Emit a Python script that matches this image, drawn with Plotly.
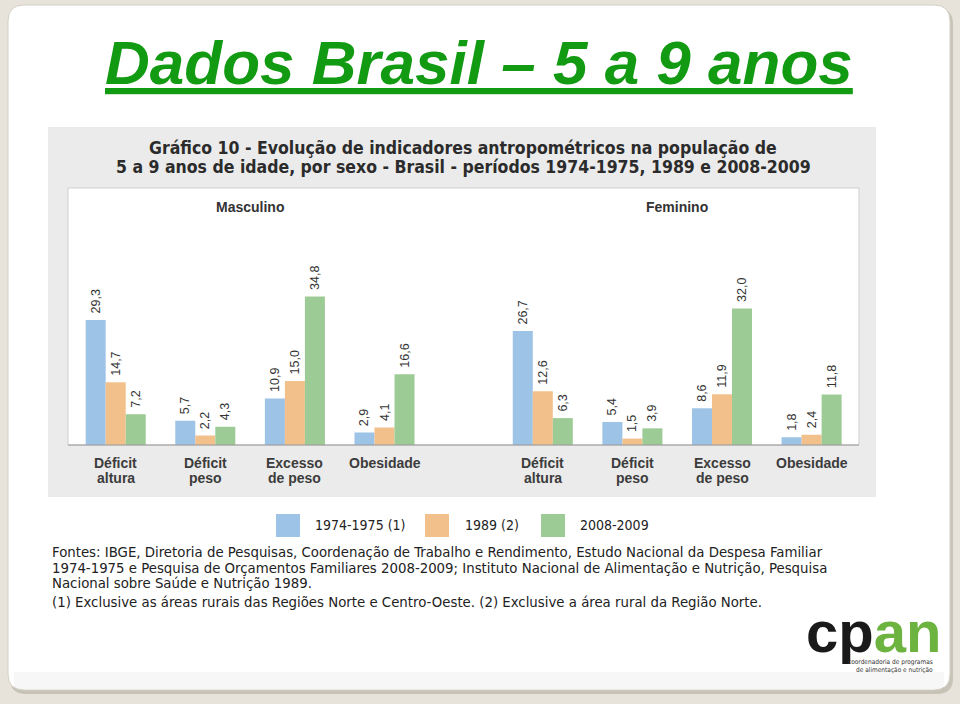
import plotly.graph_objects as go

# ---------------- data ----------------
categories = ["Déficit altura", "Déficit peso", "Excesso de peso", "Obesidade"]
category_lines = [("Déficit", "altura"), ("Déficit", "peso"), ("Excesso", "de peso"), ("Obesidade", "")]
periods = ["1974-1975 (1)", "1989 (2)", "2008-2009"]
masc_1974 = [29.3, 5.7, 10.9, 2.9]
masc_1989 = [14.7, 2.2, 15.0, 4.1]
masc_2008 = [7.2, 4.3, 34.8, 16.6]
fem_1974 = [26.7, 5.4, 8.6, 1.8]
fem_1989 = [12.6, 1.5, 11.9, 2.4]
fem_2008 = [6.3, 3.9, 32.0, 11.8]

colors = ["#9dc3e6", "#f2c08b", "#9dcb95"]
W, H = 960, 704


def px(x):
    return x / W


def py(y):
    return 1 - y / H


def fmt(v):
    return "\u00a0" + f"{v:.1f}".replace(".", ",")


fig = go.Figure()

series = [
    ("x", "y", [masc_1974, masc_1989, masc_2008]),
    ("x2", "y2", [fem_1974, fem_1989, fem_2008]),
]
for xa, ya, vals in series:
    for i, v in enumerate(vals):
        fig.add_trace(go.Bar(
            x=categories, y=v, xaxis=xa, yaxis=ya,
            name=periods[i], marker=dict(color=colors[i], line=dict(width=0)),
            text=[fmt(t) for t in v], textposition="outside", textangle=-90,
            constraintext="none",
            textfont=dict(family="Liberation Sans, Arial, sans-serif", size=12.5, color="#333333"),
            cliponaxis=False, showlegend=False, hoverinfo="skip",
        ))

# ---------------- decoration shapes ----------------
def rrect(x0, y0, x1, y1, r):
    rx, ry = r / W, r / H
    X0, X1, Y0, Y1 = px(x0), px(x1), py(y0), py(y1)
    return (f"M {X0+rx},{Y0} L {X1-rx},{Y0} Q {X1},{Y0} {X1},{Y0-ry} "
            f"L {X1},{Y1+ry} Q {X1},{Y1} {X1-rx},{Y1} L {X0+rx},{Y1} "
            f"Q {X0},{Y1} {X0},{Y1+ry} L {X0},{Y0-ry} Q {X0},{Y0} {X0+rx},{Y0} Z")

shapes = [
    dict(type="path", xref="paper", yref="paper", path=rrect(10, 8, 953, 694, 16),
         fillcolor="rgba(120,110,90,0.28)", line=dict(width=0), layer="below"),
    dict(type="path", xref="paper", yref="paper", path=rrect(8, 5, 950, 690, 16),
         fillcolor="#ffffff", line=dict(color="#d4d0c6", width=1), layer="below"),
    dict(type="rect", xref="paper", yref="paper", x0=px(14), x1=px(944), y0=py(689), y1=py(672),
         fillcolor="rgba(0,0,0,0.03)", line=dict(width=0), layer="below"),
    # gray chart panel
    dict(type="rect", xref="paper", yref="paper", x0=px(48), x1=px(876), y0=py(497), y1=py(127),
         fillcolor="#ebebeb", line=dict(width=0), layer="below"),
    # white plot area
    dict(type="rect", xref="paper", yref="paper", x0=px(68), x1=px(859), y0=py(445), y1=py(188),
         fillcolor="#ffffff", line=dict(color="#cfcfcf", width=1), layer="below"),
    # baseline
    dict(type="line", xref="paper", yref="paper", x0=px(68), x1=px(859), y0=py(445), y1=py(445),
         line=dict(color="#9a9a9a", width=1.2)),
]

# legend swatches
leg_x = [276, 425, 541]
for i, lx in enumerate(leg_x):
    shapes.append(dict(type="rect", xref="paper", yref="paper", x0=px(lx), x1=px(lx + 24),
                       y0=py(537), y1=py(514), fillcolor=colors[i], line=dict(width=0)))

narrow = "Liberation Sans Narrow, Arial Narrow, DejaVu Sans Condensed, sans-serif"
arial = "Liberation Sans, Arial, sans-serif"

annotations = [
    dict(text="<b><i><u>Dados Brasil – 5 a 9 anos</u></i></b>", x=px(479), y=py(62),
         xref="paper", yref="paper", showarrow=False, xanchor="center", yanchor="middle",
         font=dict(family=arial, size=62, color="#139a13")),
    dict(text="<b>Masculino</b>", x=px(250), y=py(207), xref="paper", yref="paper",
         showarrow=False, xanchor="center", yanchor="middle",
         font=dict(family=arial, size=14, color="#333333")),
    dict(text="<b>Feminino</b>", x=px(677), y=py(207), xref="paper", yref="paper",
         showarrow=False, xanchor="center", yanchor="middle",
         font=dict(family=arial, size=14, color="#333333")),
]

head_lines = [
    ("Gráfico 10 - Evolução de indicadores antropométricos na população de", 148),
    ("5 a 9 anos de idade, por sexo - Brasil - períodos 1974-1975, 1989 e 2008-2009", 167),
]
for t, yy in head_lines:
    annotations.append(dict(text=f"<b>{t}</b>", x=px(463), y=py(yy), xref="paper", yref="paper",
                            showarrow=False, xanchor="center", yanchor="middle",
                            font=dict(family=narrow, size=17.5, color="#2b2b2b")))

foot_lines = [
    ("Fontes: IBGE, Diretoria de Pesquisas, Coordenação de Trabalho e Rendimento, Estudo Nacional da Despesa Familiar", 551),
    ("1974-1975 e Pesquisa de Orçamentos Familiares 2008-2009; Instituto Nacional de Alimentação e Nutrição, Pesquisa", 567),
    ("Nacional sobre Saúde e Nutrição 1989.", 582),
    ("(1) Exclusive as áreas rurais das Regiões Norte e Centro-Oeste. (2) Exclusive a área rural da Região Norte.", 601),
]
for t, yy in foot_lines:
    annotations.append(dict(text=t, x=px(50), y=py(yy), xref="paper", yref="paper", showarrow=False,
                            xanchor="left", yanchor="middle", align="left",
                            font=dict(family=narrow, size=14.8, color="#222222")))

# category labels under bars (two tight lines)
for xa in ["x", "x2"]:
    for cat, (l1, l2) in zip(categories, category_lines):
        for txt, yy in ((l1, 463), (l2, 478)):
            if txt:
                annotations.append(dict(text=f"<b>{txt}</b>", x=cat, xref=xa, y=py(yy), yref="paper",
                                        showarrow=False, xanchor="center", yanchor="middle",
                                        font=dict(family=arial, size=14, color="#3c3c3c")))

# logo
annotations += [
    dict(text="<b>cp</b><b><span style='color:#6db33f'>an</span></b>", x=px(873), y=py(631),
         xref="paper", yref="paper", showarrow=False, xanchor="center", yanchor="middle",
         font=dict(family=arial, size=58, color="#1a1a1a")),
    dict(text="coordenadoria de programas", x=px(935), y=py(662),
         xref="paper", yref="paper", showarrow=False, xanchor="right", yanchor="middle",
         font=dict(family=narrow, size=6.5, color="#333333")),
    dict(text="de alimentação e nutrição", x=px(935), y=py(670),
         xref="paper", yref="paper", showarrow=False, xanchor="right", yanchor="middle",
         font=dict(family=narrow, size=6.5, color="#333333")),
]

leg_text_x = [313, 463, 578]
for i, tx in enumerate(leg_text_x):
    annotations.append(dict(text=periods[i], x=px(tx), y=py(525), xref="paper", yref="paper",
                            showarrow=False, xanchor="left", yanchor="middle",
                            font=dict(family=narrow, size=14, color="#222222")))

xaxis_common = dict(showline=False, showgrid=False, zeroline=False, ticks="",
                    showticklabels=False, fixedrange=True)
yaxis_common = dict(range=[0, 60.2], visible=False, showgrid=False, zeroline=False, fixedrange=True)

fig.update_layout(
    width=W, height=H, margin=dict(l=0, r=0, t=0, b=0),
    paper_bgcolor="#e7e3da", plot_bgcolor="rgba(0,0,0,0)",
    barmode="group", bargap=0.33, bargroupgap=0,
    showlegend=False,
    xaxis=dict(domain=[px(70.9), px(429.3)], anchor="y", **xaxis_common),
    xaxis2=dict(domain=[px(498), px(856.4)], anchor="y2", **xaxis_common),
    yaxis=dict(domain=[py(445), py(188)], anchor="x", **yaxis_common),
    yaxis2=dict(domain=[py(445), py(188)], anchor="x2", **yaxis_common),
    shapes=shapes, annotations=annotations,
)

fig.write_html(
    "out.html",
    config={"displayModeBar": False},
    post_script="document.body.style.margin='0px';document.body.style.background='#e7e3da';",
)
